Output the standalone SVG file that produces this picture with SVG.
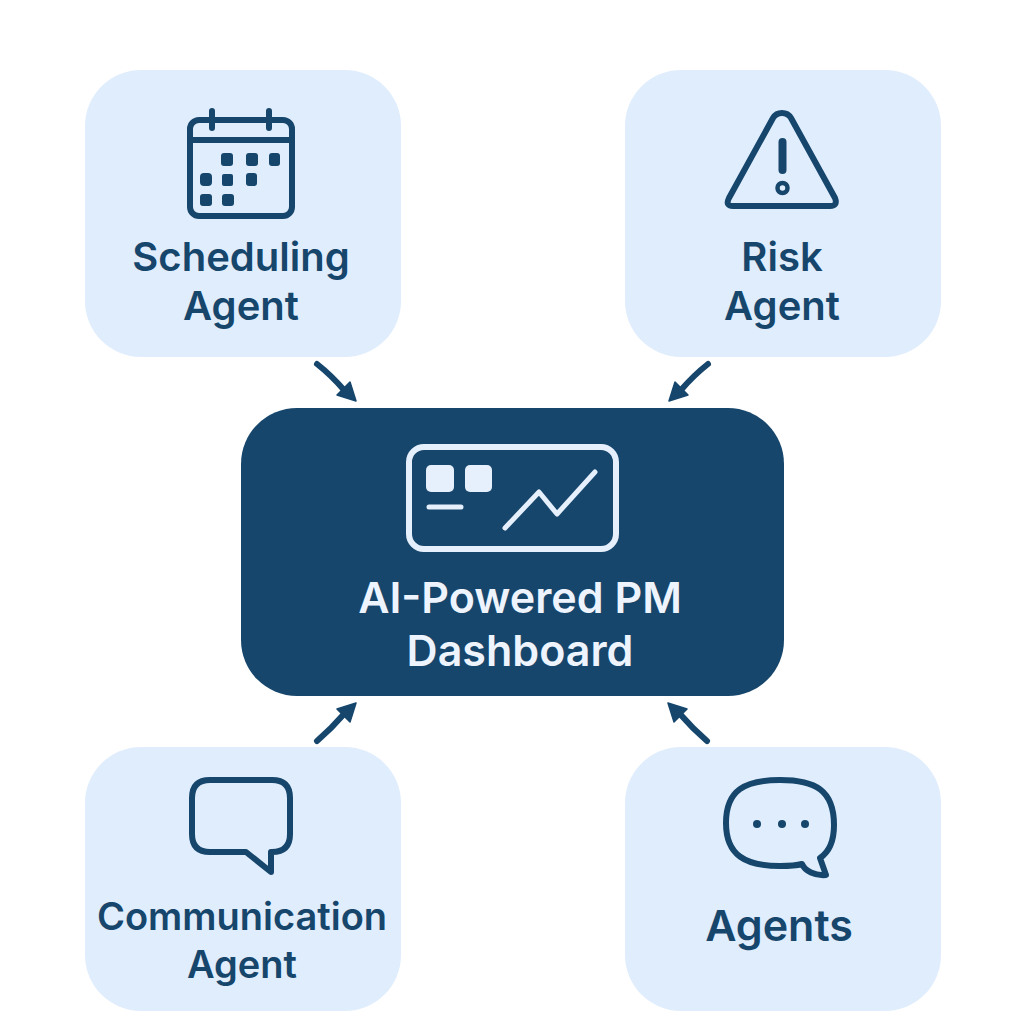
<svg xmlns="http://www.w3.org/2000/svg" width="1024" height="1024" viewBox="0 0 1024 1024">
<defs><style>
.card{fill:#e0edfd}
.t{font-family:Inter,"Liberation Sans",sans-serif;font-weight:600;font-size:40px;fill:#16466c;text-anchor:middle}
.s{font-size:38px}
.a{font-size:43px}
.w{fill:#eef4fd;font-size:43px}
.i{fill:none;stroke:#16466c;stroke-width:6px;stroke-linecap:round;stroke-linejoin:round}
.l{fill:none;stroke:#e6effc;stroke-width:6px;stroke-linecap:round;stroke-linejoin:round}
.d{fill:#16466c}
.c{fill:none;stroke:#16466c;stroke-width:6px;stroke-linecap:round}
.h{fill:#16466c;stroke:#16466c;stroke-width:1.500;stroke-linejoin:round}
</style></defs>
<rect width="1024" height="1024" fill="#fff"/>
<g id="connectors">
<path class="c" d="M317 364Q331 375 344 390"/><path class="h" d="M356 401L337 395L350 382Z"/>
<path class="c" d="M708 364Q694 375 681 390"/><path class="h" d="M669 401L688 395L675 382Z"/>
<path class="c" d="M317 741Q331 729 344 714"/><path class="h" d="M356 703L337 709L350 722Z"/>
<path class="c" d="M707 741Q693 729 680 714"/><path class="h" d="M668 703L687 709L674 722Z"/>
</g>
<g id="scheduling">
<rect class="card" x="85" y="70" width="316" height="287" rx="56"/>
<rect class="i" x="190" y="120" width="102" height="96" rx="9"/>
<path class="i" d="M190 140H292M212 111V128M269 111V128"/>
<g class="d"><rect x="221" y="153" width="12" height="13" rx="3"/><rect x="246" y="153" width="12" height="13" rx="3"/><rect x="269" y="153" width="11" height="13" rx="3"/><rect x="200" y="173" width="12" height="13" rx="4"/><rect x="222" y="174" width="11" height="12" rx="2"/><rect x="246" y="173" width="11" height="13" rx="3"/><rect x="200" y="194" width="12" height="12" rx="3"/><rect x="222" y="194" width="12" height="12" rx="3"/></g>
<text class="t" x="241" y="271">Scheduling</text><text class="t" x="241" y="320">Agent</text>
</g>
<g id="risk">
<rect class="card" x="625" y="70" width="316" height="287" rx="56"/>
<path class="i" d="M782 113Q776 113 773 118L729 198Q725 206 733 206H830Q838 206 835 198L791 118Q788 113 782 113Z"/>
<path class="i" style="stroke-width:8" d="M782.500 142V170"/>
<circle class="i" cx="782.500" cy="188" r="5" style="stroke-width:4.500"/>
<text class="t" x="782" y="271">Risk</text><text class="t" x="782" y="320">Agent</text>
</g>
<g id="dashboard">
<rect x="241" y="408" width="543" height="288" rx="56" fill="#16466c"/>
<rect class="l" x="409" y="447" width="207" height="102" rx="15"/>
<rect x="426" y="465" width="28" height="27" rx="5" fill="#e6effc"/><rect x="465" y="465" width="27" height="27" rx="5" fill="#e6effc"/>
<path class="l" style="stroke-width:5" d="M429 507H461M505 528L539 492L557 514L595 472"/>
<text class="t w" x="520" y="613">AI-Powered PM</text><text class="t w" x="520" y="666">Dashboard</text>
</g>
<g id="communication">
<rect class="card" x="85" y="747" width="316" height="264" rx="56"/>
<path class="i" d="M210 780H272Q290 780 290 798V834Q290 852 272 852H271V872L246 852H210Q192 852 192 834V798Q192 780 210 780Z"/>
<text class="t s" x="242" y="930">Communication</text><text class="t s" x="242" y="978">Agent</text>
</g>
<g id="agents">
<rect class="card" x="625" y="747" width="316" height="264" rx="56"/>
<path class="i" d="M780 780C815 780 834 790 834 825C834 840 829 852 820 858L826 875C815 876 805 871 802 864C795 866 788 866 780 866C745 866 726 855 726 823C726 790 745 780 780 780Z"/>
<g class="d"><circle cx="757" cy="824" r="4"/><circle cx="782" cy="824" r="4"/><circle cx="805" cy="824" r="4"/></g>
<text class="t a" x="779" y="941">Agents</text>
</g>
</svg>
